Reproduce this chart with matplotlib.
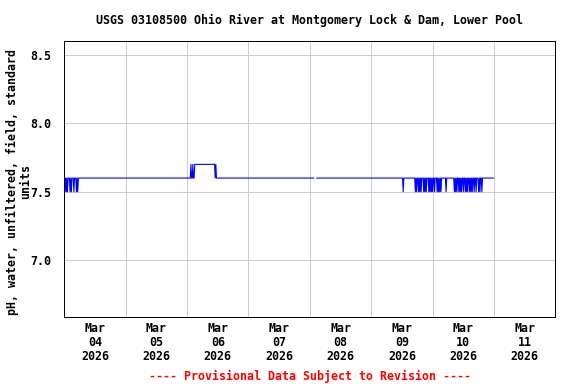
import numpy as np
import matplotlib
matplotlib.use("Agg")
import matplotlib.pyplot as plt
import matplotlib.dates as mdates
from datetime import datetime, timedelta

title = "USGS 03108500 Ohio River at Montgomery Lock & Dam, Lower Pool"
ylabel = "pH, water, unfiltered, field, standard\nunits"
footer = "---- Provisional Data Subject to Revision ----"
start = datetime(2026, 3, 4)
day_labels = ["Mar\n04\n2026", "Mar\n05\n2026", "Mar\n06\n2026", "Mar\n07\n2026",
              "Mar\n08\n2026", "Mar\n09\n2026", "Mar\n10\n2026", "Mar\n11\n2026"]
y_ticks = [7.0, 7.5, 8.0, 8.5]

# hours since 2026-03-04 00:00 and pH readings (nan = gap)
hours = [0.00, 0.25, 0.50, 0.75, 1.00, 1.25, 1.50, 2.00, 2.25, 2.50, 2.75, 3.00,
         3.50, 3.75, 4.00, 4.50, 4.75, 5.00, 5.25, 5.50,
         49.25, 49.5, 49.75, 50.0, 50.25, 50.5, 50.75, 51.0, 58.75, 59.0, 59.25, 59.5,
         97.5, 97.75, 98.75,
         132.25, 132.5, 132.75,
         137.0, 137.25, 137.5, 137.75, 138.0,
         138.25, 138.5, 138.75, 139.0, 139.25, 139.5, 139.75,
         140.25, 140.5, 140.75, 141.0, 141.25, 141.5, 141.75,
         142.25, 142.5, 142.75, 143.0, 143.25, 143.5, 143.75, 144.0, 144.25,
         144.5, 144.75, 145.0,
         145.5, 145.75, 146.0, 146.25, 146.5, 146.75, 147.0, 147.25, 147.5,
         149.0, 149.25, 149.5,
         152.25, 152.5, 152.75, 153.0, 153.25, 153.5, 153.75,
         154.0, 154.25, 154.5, 154.75, 155.0, 155.25, 155.5,
         155.75, 156.0, 156.25,
         156.5, 156.75, 157.0, 157.25, 157.5, 157.75, 158.0,
         158.25, 158.5, 158.75, 159.0, 159.25, 159.5, 159.75,
         160.0, 160.25, 160.5,
         160.75, 161.0, 161.25,
         161.75, 162.0, 162.25, 162.5, 162.75,
         163.0, 163.25, 163.5,
         167.75]
ph = [7.6, 7.5, 7.6, 7.5, 7.6, 7.5, 7.6, 7.6, 7.5, 7.6, 7.5, 7.6,
      7.6, 7.5, 7.6, 7.6, 7.5, 7.6, 7.5, 7.6,
      7.6, 7.7, 7.6, 7.6, 7.7, 7.6, 7.6, 7.7, 7.7, 7.6, 7.7, 7.6,
      7.6, np.nan, 7.6,
      7.6, 7.5, 7.6,
      7.6, 7.5, 7.6, 7.5, 7.6,
      7.6, 7.5, 7.6, 7.5, 7.6, 7.5, 7.6,
      7.6, 7.5, 7.6, 7.5, 7.6, 7.5, 7.6,
      7.6, 7.5, 7.6, 7.5, 7.6, 7.5, 7.6, 7.5, 7.6,
      7.6, 7.5, 7.6,
      7.6, 7.5, 7.6, 7.5, 7.6, 7.5, 7.6, 7.5, 7.6,
      7.6, 7.5, 7.6,
      7.6, 7.5, 7.6, 7.5, 7.6, 7.5, 7.6,
      7.6, 7.5, 7.6, 7.5, 7.6, 7.5, 7.6,
      7.6, 7.5, 7.6,
      7.6, 7.5, 7.6, 7.5, 7.6, 7.5, 7.6,
      7.6, 7.5, 7.6, 7.5, 7.6, 7.5, 7.6,
      7.6, 7.5, 7.6,
      7.6, 7.5, 7.6,
      7.6, 7.5, 7.6, 7.5, 7.6,
      7.6, 7.5, 7.6,
      7.6]

times = [start + timedelta(hours=h) for h in hours]

FONT = dict(family="DejaVu Sans Mono", fontweight="bold", fontsize=11.6)

fig = plt.figure(figsize=(8, 384 / 72), dpi=72)
ax = fig.add_axes([64.3 / 576, 1 - 316.5 / 384, (555.4 - 64.3) / 576, (316.5 - 41) / 384])

ax.plot(times, ph, color="#0000ff", lw=1.1)

ax.set_xlim(start, start + timedelta(days=8))
ax.set_ylim(6.59, 8.6)

ax.xaxis.set_major_locator(mdates.DayLocator())
ax.xaxis.set_major_formatter(plt.NullFormatter())
noon = [start + timedelta(days=i, hours=12) for i in range(8)]
ax.set_xticks(noon, minor=True)
ax.set_xticklabels(day_labels, minor=True, **FONT, linespacing=1.1)
ax.tick_params(axis="x", which="both", length=0, pad=6)
ax.set_yticks(y_ticks)
ax.set_yticklabels([f"{v:.1f}" for v in y_ticks], **FONT)
ax.tick_params(axis="y", length=0, pad=13)

ax.grid(True, which="major", color="#cccccc", lw=1.0, antialiased=False)
ax.set_axisbelow(True)
for s in ax.spines.values():
    s.set_color("black")
    s.set_linewidth(1.0)

ax.set_ylabel(ylabel, **FONT, linespacing=1.0)
ax.yaxis.set_label_coords(-0.065, 0.49)
fig.text(0.5 * (64.3 + 555.4) / 576, 1 - 20 / 384, title, ha="center", va="center", **FONT)
fig.text(0.5 * (64.3 + 555.4) / 576, 1 - 376 / 384, footer, ha="center", va="center",
         color="red", **FONT)

fig.savefig("out.png", dpi=72)
